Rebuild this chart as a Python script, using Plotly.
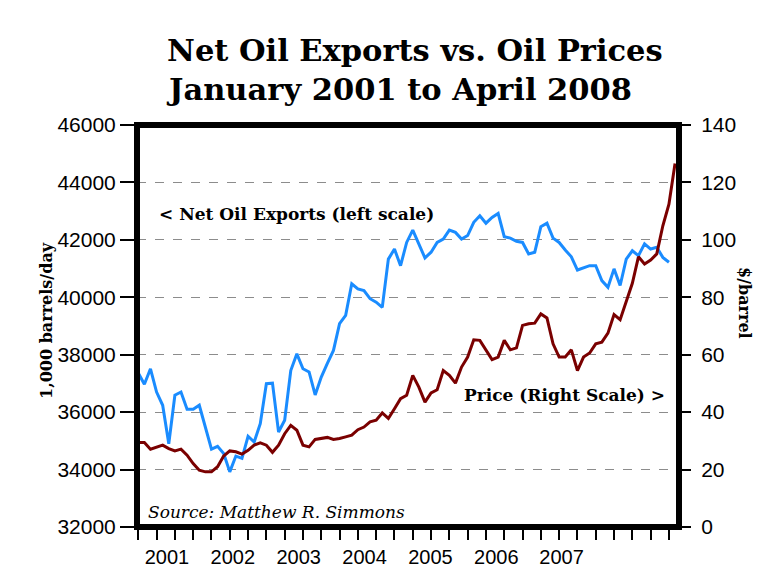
import plotly.graph_objects as go

# ---- data ----
exports_k_bpd = [
    37360, 36970, 37510, 36700, 36240, 34900, 36590, 36700, 36100, 36100, 36240, 35450,
    34710, 34810, 34560, 33920, 34470, 34390, 35160, 34960, 35600, 36990, 37010, 35310,
    35720, 37450, 38030, 37510, 37400, 36600, 37220, 37700, 38150, 39080, 39370, 40470,
    40290, 40230, 39950, 39830, 39650, 41330, 41680, 41100, 41910, 42340, 41860, 41370,
    41570, 41910, 42030, 42340, 42260, 42030, 42150, 42610, 42840, 42580, 42780, 42920,
    42110, 42060, 41950, 41910, 41510, 41570, 42460, 42580, 42060, 41910, 41650, 41410,
    40950, 41020, 41100, 41100, 40580, 40350, 40990, 40410, 41330, 41620, 41450, 41860,
    41680, 41740, 41390, 41220,
]
price_usd = [
    29.4, 29.4, 27.1, 27.7, 28.5, 27.3, 26.5, 27.1, 25.0, 22.1, 19.8, 19.2,
    19.2, 21.0, 24.7, 26.5, 26.2, 25.4, 26.7, 28.5, 29.3, 28.5, 26.0, 28.5,
    32.5, 35.4, 33.7, 28.5, 27.9, 30.5, 30.8, 31.2, 30.5, 30.8, 31.4, 32.0,
    33.9, 34.8, 36.6, 37.2, 39.7, 37.8, 41.2, 44.7, 45.9, 52.8, 48.7, 43.5,
    46.7, 47.8, 54.5, 52.8, 50.1, 55.7, 59.2, 65.2, 65.0, 61.5, 58.3, 59.2,
    65.0, 61.7, 62.4, 70.2, 70.8, 71.0, 74.2, 72.8, 63.8, 59.2, 59.2, 61.7,
    54.5, 59.2, 60.6, 63.8, 64.4, 67.5, 74.0, 72.2, 78.3, 84.9, 94.1, 91.6,
    93.0, 95.1, 104.9, 112.4, 126.6,
]
year_labels = ["2001", "2002", "2003", "2004", "2005", "2006", "2007"]
year_label_pos = [4.7, 15.5, 26.3, 37.1, 47.9, 58.7, 69.4]  # month-index positions of labels

months_exports = list(range(len(exports_k_bpd)))
months_price = list(range(len(price_usd)))

SERIF = "DejaVu Serif"
SANS = "Liberation Sans"

fig = go.Figure()
fig.add_trace(go.Scatter(
    x=months_exports, y=exports_k_bpd, mode="lines",
    line=dict(color="#1a8cff", width=3), yaxis="y", showlegend=False,
))
fig.add_trace(go.Scatter(
    x=months_price, y=price_usd, mode="lines",
    line=dict(color="#7a0000", width=3), yaxis="y2", showlegend=False,
))

OFF = 8  # page body margin offset
PW, PH = 773, 580
W, H = PW - OFF, PH - OFF
# target plot area in page pixels: x 137..679, y 125..527
L, R, T, B = 137 - OFF, PW - 679, 125 - OFF, PH - 527

def px(X):
    return (X - 137) / (679 - 137)

def py(Y):
    return (527 - Y) / (527 - 125)

fig.update_layout(
    width=W, height=H,
    margin=dict(l=L, r=R, t=T, b=B, pad=0, autoexpand=False),
    paper_bgcolor="white", plot_bgcolor="white",
    showlegend=False,
    xaxis=dict(
        range=[-0.21, 88.65], automargin=False,
        tickmode="array", tickvals=year_label_pos, ticktext=year_labels,
        ticks="outside", ticklen=12, tickcolor="rgba(0,0,0,0)",
        tickfont=dict(family=SANS, size=20, color="black"),
        showgrid=False, zeroline=False, showline=False,
        minor=dict(tickmode="linear", tick0=0, dtick=3, ticks="outside",
                   ticklen=12, tickcolor="black", tickwidth=1.5, showgrid=False),
    ),
    yaxis=dict(
        range=[32000, 46000], dtick=2000, tick0=32000, tickformat="d", automargin=False,
        ticks="outside", ticklen=16, tickcolor="black", tickwidth=1.5,
        tickfont=dict(family=SANS, size=21, color="black"),
        showgrid=True, gridcolor="#8c8c8c", griddash="dash", gridwidth=1,
        zeroline=False, showline=False,
    ),
    yaxis2=dict(
        range=[0, 140], dtick=20, tick0=0, overlaying="y", side="right", automargin=False,
        ticks="outside", ticklen=11, tickcolor="black", tickwidth=1.5,
        tickfont=dict(family=SANS, size=21, color="black"),
        ticklabelstandoff=6,
        showgrid=False, zeroline=False, showline=False,
    ),
    shapes=[dict(type="rect", xref="paper", yref="paper", x0=0, x1=1, y0=0, y1=1,
                 line=dict(color="black", width=6), layer="above")],
)

ann = [
    dict(text="<b>Net Oil Exports vs. Oil Prices</b>", x=px(165), y=py(50),
         font=dict(family=SERIF, size=30.5, color="black"), xanchor="left", yanchor="middle"),
    dict(text="<b>January 2001 to April 2008</b>", x=px(164), y=py(89),
         font=dict(family=SERIF, size=30.5, color="black"), xanchor="left", yanchor="middle"),
    dict(text="<b>&lt; Net Oil Exports (left scale)</b>", x=px(157), y=py(214),
         font=dict(family=SERIF, size=17, color="black"), xanchor="left", yanchor="middle"),
    dict(text="<b>Price (Right Scale) &gt;</b>", x=px(462), y=py(395),
         font=dict(family=SERIF, size=17, color="black"), xanchor="left", yanchor="middle"),
    dict(text="<i>Source: Matthew R. Simmons</i>", x=px(146), y=py(512),
         font=dict(family=SERIF, size=17, color="black"), xanchor="left", yanchor="middle"),
    dict(text="<b>1,000 barrels/day</b>", x=px(46), y=py(321), textangle=-90,
         font=dict(family=SERIF, size=16, color="black"), xanchor="center", yanchor="middle"),
    dict(text="<b>$/barrel</b>", x=px(745), y=py(303), textangle=90,
         font=dict(family=SERIF, size=16, color="black"), xanchor="center", yanchor="middle"),
]
for a in ann:
    a.update(xref="paper", yref="paper", showarrow=False)
fig.update_layout(annotations=ann)

fig.write_html("out.html")
